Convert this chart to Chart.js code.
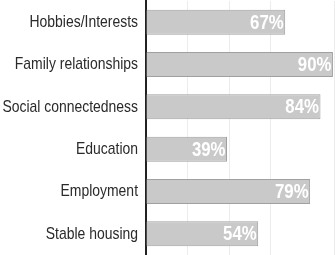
<!DOCTYPE html>
<html>
<head>
<meta charset="utf-8">
<script src="https://cdn.jsdelivr.net/npm/chart.js@4/dist/chart.umd.min.js"></script>
<style>
html,body{margin:0;padding:0;background:#fff;}
#wrap{width:335px;height:255px;position:relative;}
</style>
</head>
<body>
<div id="wrap"><canvas id="c" width="335" height="255"></canvas></div>
<script>
const categories = ["Hobbies/Interests","Family relationships","Social connectedness","Education","Employment","Stable housing"];
const values = [67, 90, 84, 39, 79, 54];
const valueLabels = ["67%","90%","84%","39%","79%","54%"];

const FONT = "'Liberation Sans',Arial,sans-serif";

// Draw condensed text (horizontal squeeze) for category and value labels
function condensedText(ctx, text, x, y, sx, align) {
  ctx.save();
  ctx.translate(x, y);
  ctx.scale(sx, 1);
  ctx.textAlign = align;
  ctx.fillText(text, 0, 0);
  ctx.restore();
}

const labelsPlugin = {
  id: 'labelsPlugin',
  afterDatasetsDraw(chart) {
    const ctx = chart.ctx;
    const yScale = chart.scales.y;
    const meta = chart.getDatasetMeta(0);
    ctx.save();
    ctx.textBaseline = "middle";
    // category labels
    ctx.font = "17px " + FONT;
    ctx.fillStyle = "#2a2a2a";
    categories.forEach((c, i) => {
      const y = yScale.getPixelForValue(i);
      condensedText(ctx, c, yScale.right - 8, y, 0.82, 'right');
    });
    // value labels
    ctx.font = "bold 20px " + FONT;
    ctx.fillStyle = "#ffffff";
    meta.data.forEach((bar, i) => {
      condensedText(ctx, valueLabels[i], bar.x - 1.5, bar.y + 1, 0.84, 'right');
    });
    ctx.restore();
  }
};

new Chart(document.getElementById('c'), {
  type: 'bar',
  data: {
    labels: categories,
    datasets: [{
      data: values,
      backgroundColor: '#c9c9c9',
      borderColor: '#a0a0a0',
      borderWidth: 1,
      borderSkipped: 'left',
      barPercentage: 0.59,
      categoryPercentage: 1.0
    }]
  },
  options: {
    indexAxis: 'y',
    responsive: false,
    animation: false,
    layout: { padding: { top: 1, bottom: 0, left: 0, right: 1 } },
    plugins: { legend: { display: false }, tooltip: { enabled: false } },
    scales: {
      x: {
        min: 0, max: 90.5,
        display: true,
        ticks: { display: false, stepSize: 20 },
        grid: { display: true, drawTicks: false, color: '#ececec', lineWidth: 1 },
        border: { display: false }
      },
      y: {
        afterFit(scale) { scale.width = 146; },
        ticks: { display: false },
        grid: { display: false, drawTicks: false },
        border: { display: true, color: '#222', width: 2 }
      }
    }
  },
  plugins: [labelsPlugin]
});
</script>
</body>
</html>
